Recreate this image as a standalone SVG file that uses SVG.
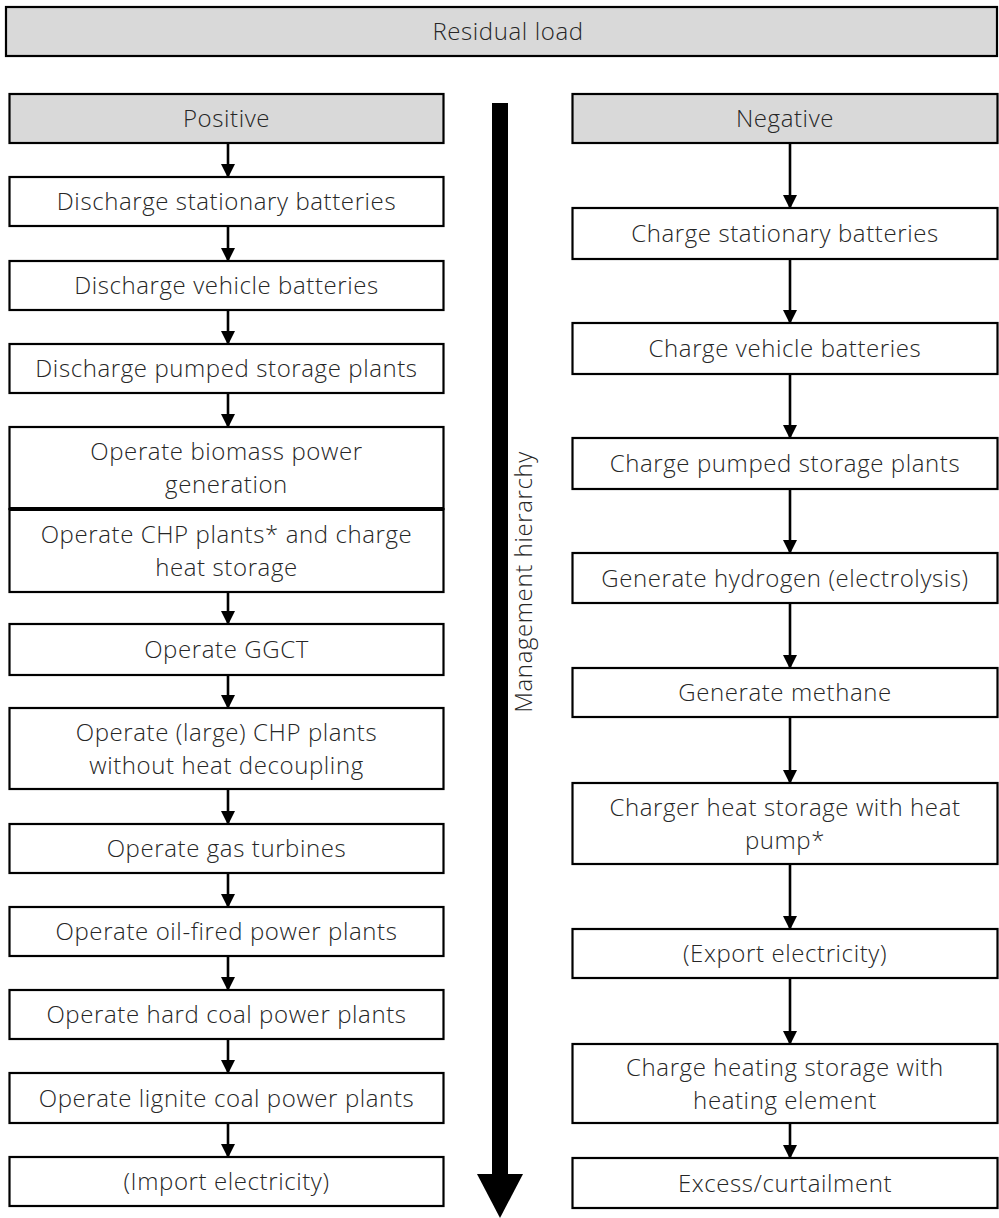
<svg xmlns="http://www.w3.org/2000/svg" width="999" height="1218" viewBox="0 0 999 1218">
<style>
.box{fill:#fff;stroke:#000;stroke-width:2.2}
.hdr{fill:#d9d9d9;stroke:#000;stroke-width:2.2}
.t{font-family:"Open Sans","Noto Sans",sans-serif;font-weight:300;font-size:24px;letter-spacing:0.6px;fill:#262626;text-anchor:middle}
.c{stroke:#000;stroke-width:2.6;fill:none;marker-end:url(#ah)}
</style>
<defs>
<marker id="ah" markerUnits="userSpaceOnUse" markerWidth="14" markerHeight="14" refX="13" refY="7" orient="auto">
<path d="M0,0 L14,7 L0,14 z" fill="#000"/>
</marker>
</defs>
<rect width="999" height="1218" fill="#fff"/>

<g id="residual"><rect class="hdr" x="6" y="7" width="991" height="49"/><text class="t" x="508" y="40">Residual load</text></g>

<g id="positive"><rect class="hdr" x="9.5" y="94" width="434" height="49"/><text class="t" x="226.5" y="127">Positive</text></g>
<g id="p1"><rect class="box" x="9.5" y="177" width="434" height="49"/><text class="t" x="226.5" y="210">Discharge stationary batteries</text></g>
<g id="p2"><rect class="box" x="9.5" y="261" width="434" height="49"/><text class="t" x="226.5" y="294">Discharge vehicle batteries</text></g>
<g id="p3"><rect class="box" x="9.5" y="344" width="434" height="49"/><text class="t" x="226.5" y="377">Discharge pumped storage plants</text></g>
<g id="p4"><rect class="box" x="9.5" y="427" width="434" height="82"/><text class="t" x="226.5" y="460">Operate biomass power</text><text class="t" x="226.5" y="493">generation</text></g>
<g id="p5"><rect class="box" x="9.5" y="509" width="434" height="83"/><line x1="9.5" y1="509" x2="443.5" y2="509" stroke="#000" stroke-width="4"/><text class="t" x="226.5" y="542.5">Operate CHP plants* and charge</text><text class="t" x="226.5" y="575.5">heat storage</text></g>
<g id="p6"><rect class="box" x="9.5" y="624" width="434" height="51"/><text class="t" x="226.5" y="658">Operate GGCT</text></g>
<g id="p7"><rect class="box" x="9.5" y="708" width="434" height="81"/><text class="t" x="226.5" y="740.5">Operate (large) CHP plants</text><text class="t" x="226.5" y="773.5">without heat decoupling</text></g>
<g id="p8"><rect class="box" x="9.5" y="824" width="434" height="49"/><text class="t" x="226.5" y="857">Operate gas turbines</text></g>
<g id="p9"><rect class="box" x="9.5" y="907" width="434" height="49"/><text class="t" x="226.5" y="940">Operate oil-fired power plants</text></g>
<g id="p10"><rect class="box" x="9.5" y="990" width="434" height="49"/><text class="t" x="226.5" y="1023">Operate hard coal power plants</text></g>
<g id="p11"><rect class="box" x="9.5" y="1073" width="434" height="50"/><text class="t" x="226.5" y="1106.5">Operate lignite coal power plants</text></g>
<g id="p12"><rect class="box" x="9.5" y="1157" width="434" height="49"/><text class="t" x="226.5" y="1190">(Import electricity)</text></g>

<g id="negative"><rect class="hdr" x="572.5" y="94" width="425" height="49"/><text class="t" x="785" y="127">Negative</text></g>
<g id="n1"><rect class="box" x="572.5" y="208" width="425" height="51"/><text class="t" x="785" y="242">Charge stationary batteries</text></g>
<g id="n2"><rect class="box" x="572.5" y="323" width="425" height="51"/><text class="t" x="785" y="357">Charge vehicle batteries</text></g>
<g id="n3"><rect class="box" x="572.5" y="438" width="425" height="51"/><text class="t" x="785" y="472">Charge pumped storage plants</text></g>
<g id="n4"><rect class="box" x="572.5" y="553" width="425" height="50"/><text class="t" x="785" y="586.5">Generate hydrogen (electrolysis)</text></g>
<g id="n5"><rect class="box" x="572.5" y="668" width="425" height="49"/><text class="t" x="785" y="701">Generate methane</text></g>
<g id="n6"><rect class="box" x="572.5" y="783" width="425" height="81"/><text class="t" x="785" y="815.5">Charger heat storage with heat</text><text class="t" x="785" y="848.5">pump*</text></g>
<g id="n7"><rect class="box" x="572.5" y="929" width="425" height="49"/><text class="t" x="785" y="962">(Export electricity)</text></g>
<g id="n8"><rect class="box" x="572.5" y="1044" width="425" height="79"/><text class="t" x="785" y="1075.5">Charge heating storage with</text><text class="t" x="785" y="1108.5">heating element</text></g>
<g id="n9"><rect class="box" x="572.5" y="1158" width="425" height="50"/><text class="t" x="785" y="1191.5">Excess/curtailment</text></g>

<g id="hierarchy">
<rect x="492" y="103" width="16" height="1072" fill="#000"/>
<polygon points="477,1174 523,1174 500,1218" fill="#000"/>
<text class="t" transform="translate(532,582) rotate(-90)">Management hierarchy</text>
</g>

<g id="connectors">
<line class="c" x1="228" y1="144" x2="228" y2="177"/>
<line class="c" x1="228" y1="227" x2="228" y2="261"/>
<line class="c" x1="228" y1="311" x2="228" y2="344"/>
<line class="c" x1="228" y1="394" x2="228" y2="427"/>
<line class="c" x1="228" y1="593" x2="228" y2="624"/>
<line class="c" x1="228" y1="676" x2="228" y2="708"/>
<line class="c" x1="228" y1="790" x2="228" y2="824"/>
<line class="c" x1="228" y1="874" x2="228" y2="907"/>
<line class="c" x1="228" y1="957" x2="228" y2="990"/>
<line class="c" x1="228" y1="1040" x2="228" y2="1073"/>
<line class="c" x1="228" y1="1124" x2="228" y2="1157"/>
<line class="c" x1="790" y1="144" x2="790" y2="208"/>
<line class="c" x1="790" y1="260" x2="790" y2="323"/>
<line class="c" x1="790" y1="375" x2="790" y2="438"/>
<line class="c" x1="790" y1="490" x2="790" y2="553"/>
<line class="c" x1="790" y1="604" x2="790" y2="668"/>
<line class="c" x1="790" y1="718" x2="790" y2="783"/>
<line class="c" x1="790" y1="865" x2="790" y2="929"/>
<line class="c" x1="790" y1="979" x2="790" y2="1044"/>
<line class="c" x1="790" y1="1124" x2="790" y2="1158"/>
</g>
</svg>
